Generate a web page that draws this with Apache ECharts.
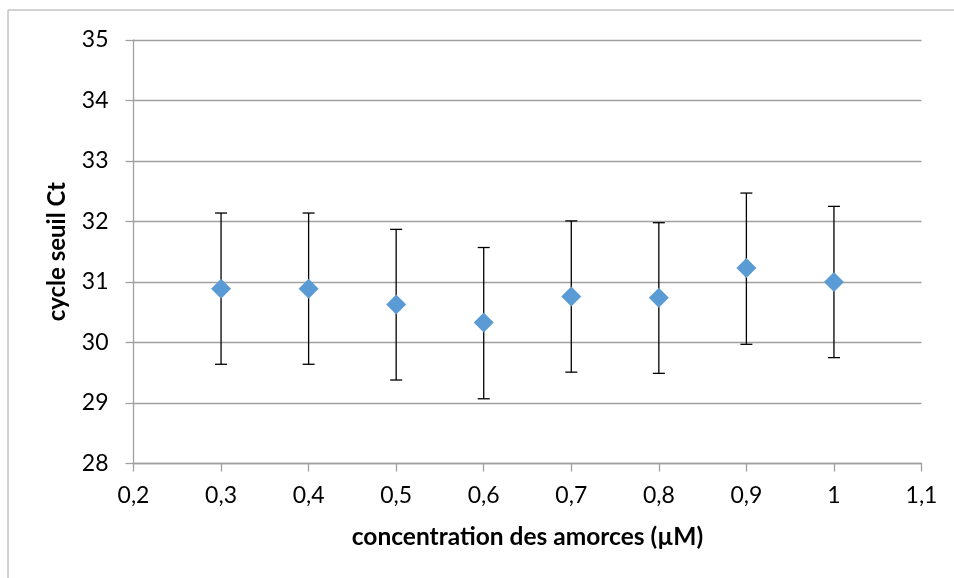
<!DOCTYPE html>
<html>
<head>
<meta charset="utf-8">
<script src="https://cdn.jsdelivr.net/npm/echarts@6/dist/echarts.min.js"></script>
<style>
  html, body { margin: 0; padding: 0; background: #fff; }
  #chart { width: 954px; height: 578px; }
</style>
</head>
<body>
<div id="chart"></div>
<script>
// concentration des amorces (µM)
var concentrations = [0.3, 0.4, 0.5, 0.6, 0.7, 0.8, 0.9, 1.0];
// cycle seuil Ct (moyenne)
var ctValues = [30.89, 30.89, 30.63, 30.33, 30.76, 30.74, 31.23, 31.00];
// barres d'erreur (+/-)
var errUp = [1.25, 1.25, 1.24, 1.24, 1.25, 1.24, 1.24, 1.25];
var errDown = [1.25, 1.25, 1.25, 1.26, 1.25, 1.25, 1.26, 1.25];

var xTitle = 'concentration des amorces (µM)';
var yTitle = 'cycle seuil Ct';

var font = 'Lato, "Open Sans", sans-serif';

// données
var pointData = [];
var errData = [];
for (var i = 0; i < concentrations.length; i++) {
	pointData.push([concentrations[i], ctValues[i]]);
	errData.push([concentrations[i], ctValues[i] - errDown[i], ctValues[i] + errUp[i]]);
}

function renderErrorBar(params, api) {
	var x = api.value(0);
	var lo = api.coord([x, api.value(1)]);
	var hi = api.coord([x, api.value(2)]);
	var cap = 6;
	var style = { stroke: '#000', lineWidth: 1.3 };
	return {
		type: 'group',
		children: [
			{ type: 'line', shape: { x1: hi[0], y1: hi[1], x2: lo[0], y2: lo[1] }, style: style },
			{ type: 'line', shape: { x1: hi[0] - cap, y1: hi[1], x2: hi[0] + cap, y2: hi[1] }, style: style },
			{ type: 'line', shape: { x1: lo[0] - cap, y1: lo[1], x2: lo[0] + cap, y2: lo[1] }, style: style }
		]
	};
}

var chart = echarts.init(document.getElementById('chart'), null, { renderer: 'canvas' });
var option = {
	animation: false,
	backgroundColor: '#fff',
	textStyle: { fontFamily: font },
	graphic: [{
		type: 'rect',
		shape: { x: 8, y: 10, width: 1000, height: 700 },
		style: { fill: 'none', stroke: '#a6a6a6', lineWidth: 1 },
		silent: true
	}],
	grid: {
		left: 133.5,
		top: 40,
		right: 32.5,
		bottom: 114.5
	},
	xAxis: {
		type: 'value',
		min: 0.2,
		max: 1.1,
		interval: 0.1,
		name: xTitle,
		nameLocation: 'middle',
		nameGap: 61,
		nameTextStyle: { fontFamily: font, fontSize: 24.5, fontWeight: 'bold', color: '#000' },
		axisLine: { show: true, lineStyle: { color: '#a0a0a0', width: 1.3 } },
		axisTick: { show: true, length: 8, lineStyle: { color: '#a0a0a0', width: 1.3 } },
		axisLabel: {
			margin: 21,
			fontFamily: font,
			fontSize: 23,
			color: '#000',
			formatter: function (v) { return String(Math.round(v * 10) / 10).replace('.', ','); }
		},
		splitLine: { show: false }
	},
	yAxis: {
		type: 'value',
		min: 28,
		max: 35,
		interval: 1,
		name: yTitle,
		nameLocation: 'middle',
		nameGap: 64,
		nameTextStyle: { fontFamily: font, fontSize: 24, fontWeight: 'bold', color: '#000' },
		axisLine: { show: true, lineStyle: { color: '#a0a0a0', width: 1.3 } },
		axisTick: { show: true, length: 8, lineStyle: { color: '#a0a0a0', width: 1.3 } },
		axisLabel: { margin: 25, fontFamily: font, fontSize: 23, color: '#000' },
		splitLine: { show: true, lineStyle: { color: '#a0a0a0', width: 1.3 } }
	},
	series: [
		{
			type: 'custom',
			renderItem: renderErrorBar,
			data: errData,
			z: 2,
			silent: true
		},
		{
			type: 'scatter',
			data: pointData,
			symbol: 'diamond',
			symbolSize: [20, 20],
			itemStyle: { color: '#5b9bd5', opacity: 1 },
			z: 3
		}
	]
};
chart.setOption(option);
</script>
</body>
</html>
